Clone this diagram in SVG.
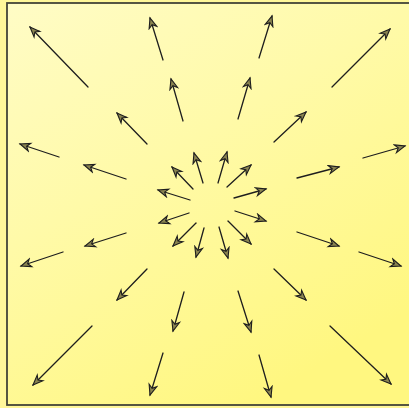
<svg xmlns="http://www.w3.org/2000/svg" width="409" height="408" viewBox="0 0 409 408">
<defs>
<linearGradient id="bg" x1="0" y1="0" x2="0.6" y2="1">
<stop offset="0" stop-color="#fffcc6"/>
<stop offset="0.45" stop-color="#fffaa8"/>
<stop offset="1" stop-color="#fff780"/>
</linearGradient>
<marker id="ah" markerUnits="userSpaceOnUse" markerWidth="14" markerHeight="12" viewBox="-11 -6 13 12" refX="0" refY="0" orient="auto">
<path d="M-10,-4 L0,0 L-10,4 L-7,0 Z" fill="#8a8450" stroke="#1e1e1e" stroke-width="1.1" stroke-linejoin="miter"/>
</marker>
<style>
.a{stroke:#1e1e1e;stroke-width:1.3;fill:none;marker-end:url(#ah);stroke-linecap:round}
</style>
</defs>
<rect width="409" height="408" fill="#fff79a"/>
<rect x="7" y="3" width="408" height="402" fill="url(#bg)" stroke="#444438" stroke-width="1.8"/>
<g id="arrows">
<g id="inner">
<line class="a" x1="203" y1="183" x2="194" y2="153"/>
<line class="a" x1="193" y1="189" x2="172" y2="167"/>
<line class="a" x1="190" y1="200" x2="158" y2="190"/>
<line class="a" x1="189" y1="213" x2="159" y2="223"/>
<line class="a" x1="196" y1="223" x2="173" y2="246"/>
<line class="a" x1="204" y1="228" x2="196" y2="257"/>
<line class="a" x1="218" y1="183" x2="227" y2="152"/>
<line class="a" x1="227" y1="187" x2="251" y2="165"/>
<line class="a" x1="234" y1="198" x2="266" y2="189"/>
<line class="a" x1="235" y1="211" x2="266" y2="221"/>
<line class="a" x1="228" y1="221" x2="251" y2="244"/>
<line class="a" x1="219" y1="227" x2="228" y2="258"/>
</g>
<g id="middle">
<line class="a" x1="183" y1="121" x2="171" y2="79"/>
<line class="a" x1="147" y1="144" x2="117" y2="113"/>
<line class="a" x1="126" y1="179" x2="84" y2="165"/>
<line class="a" x1="126" y1="233" x2="85" y2="246"/>
<line class="a" x1="147" y1="269" x2="117" y2="300"/>
<line class="a" x1="184" y1="292" x2="173" y2="331"/>
<line class="a" x1="238" y1="119" x2="250" y2="78"/>
<line class="a" x1="274" y1="142" x2="306" y2="112"/>
<line class="a" x1="297" y1="178" x2="339" y2="167"/>
<line class="a" x1="297" y1="232" x2="339" y2="246"/>
<line class="a" x1="274" y1="269" x2="306" y2="300"/>
<line class="a" x1="238" y1="291" x2="251" y2="332"/>
</g>
<g id="outer">
<line class="a" x1="88" y1="87" x2="30" y2="27"/>
<line class="a" x1="163" y1="60" x2="150" y2="18"/>
<line class="a" x1="59" y1="157" x2="20" y2="144"/>
<line class="a" x1="63" y1="252" x2="21" y2="266"/>
<line class="a" x1="92" y1="326" x2="33" y2="385"/>
<line class="a" x1="163" y1="353" x2="150" y2="395"/>
<line class="a" x1="259" y1="58" x2="272" y2="16"/>
<line class="a" x1="332" y1="87" x2="390" y2="29"/>
<line class="a" x1="363" y1="158" x2="405" y2="146"/>
<line class="a" x1="359" y1="252" x2="401" y2="266"/>
<line class="a" x1="330" y1="326" x2="391" y2="384"/>
<line class="a" x1="259" y1="355" x2="271" y2="397"/>
</g>
</g>
</svg>
